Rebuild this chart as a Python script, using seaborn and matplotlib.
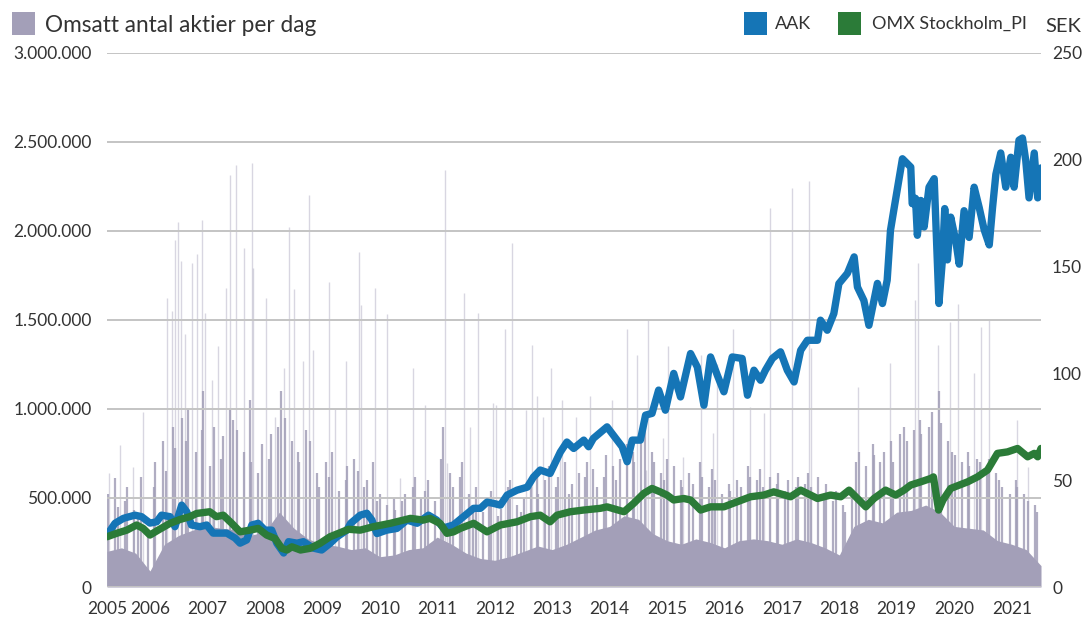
import numpy as np
import pandas as pd
import matplotlib
matplotlib.use("Agg")
import matplotlib.pyplot as plt
import seaborn as sns
from matplotlib.ticker import FuncFormatter
from matplotlib.patches import Rectangle

# ---------------- data ----------------
aak_dates = ["2005-10-01", "2005-11-21", "2006-01-13", "2006-03-27", "2006-05-09", "2006-07-01",
             "2006-08-13", "2006-09-13", "2006-11-06", "2006-12-07", "2007-01-19", "2007-02-20",
             "2007-03-22", "2007-05-15", "2007-06-27", "2007-08-07", "2007-11-01", "2007-12-24",
             "2008-01-25", "2008-03-07", "2008-04-09", "2008-05-19", "2008-07-01", "2008-08-13",
             "2008-09-15", "2008-10-28", "2008-11-28", "2009-01-21", "2009-03-03", "2009-05-04",
             "2009-06-27", "2009-08-19", "2009-10-01", "2009-12-04", "2009-12-28", "2010-02-27",
             "2010-04-10", "2010-05-12", "2010-06-13", "2010-08-15", "2010-10-18", "2010-12-21",
             "2011-02-24", "2011-05-07", "2011-06-28", "2011-08-10", "2011-10-12", "2011-12-16",
             "2012-02-18", "2012-04-01", "2012-05-13", "2012-06-24", "2012-08-06", "2012-09-18",
             "2012-11-20", "2013-01-24", "2013-03-04", "2013-04-16", "2013-06-18", "2013-08-22",
             "2013-10-03", "2013-11-15", "2014-01-18", "2014-02-18", "2014-03-20", "2014-06-15",
             "2014-08-18", "2014-09-19", "2014-10-21", "2014-11-22", "2015-01-13", "2015-02-15",
             "2015-03-28", "2015-05-09", "2015-06-21", "2015-08-13", "2015-09-25", "2015-11-28",
             "2016-01-10", "2016-02-21", "2016-04-03", "2016-05-16", "2016-06-27", "2016-08-19",
             "2016-10-21", "2016-11-24", "2017-01-04", "2017-02-15", "2017-03-18", "2017-05-01",
             "2017-06-22", "2017-08-04", "2017-09-16", "2017-10-28", "2017-12-10", "2018-02-12",
             "2018-03-03", "2018-04-15", "2018-05-27", "2018-06-28", "2018-08-21", "2018-10-03",
             "2018-10-24", "2018-12-04", "2019-01-05", "2019-02-06", "2019-02-28", "2019-04-01",
             "2019-05-01", "2019-05-22", "2019-06-12", "2019-08-06", "2019-09-28", "2019-10-07",
             "2019-10-28", "2019-11-09", "2019-12-01", "2019-12-22", "2020-01-22", "2020-02-24",
             "2020-03-15", "2020-03-25", "2020-04-16", "2020-05-01", "2020-05-18", "2020-06-08",
             "2020-07-10", "2020-08-01", "2020-09-01", "2020-10-03", "2020-11-04", "2020-12-06",
             "2021-01-07", "2021-02-08", "2021-03-01", "2021-03-22", "2021-04-22", "2021-05-24",
             "2021-06-25", "2021-07-16", "2021-08-16", "2021-09-07", "2021-09-28", "2021-10-19",
             "2021-11-21", "2021-12-13", "2022-01-03"]
aak_values = [24.3, 29.8, 32.1, 33.6, 32.9, 29.9,
              30.5, 33.6, 32.9, 28.2, 38.3, 35.2,
              29.0, 28.2, 29.0, 25.2, 25.2, 22.9,
              20.5, 22.0, 29.0, 29.8, 26.6, 26.6,
              20.4, 15.9, 21.2, 20.5, 21.2, 18.2,
              17.3, 20.4, 23.4, 26.6, 29.8, 33.6,
              34.5, 31.3, 25.0, 26.6, 27.4, 31.3,
              29.8, 33.6, 31.3, 27.6, 29.0, 32.9,
              36.8, 36.8, 39.7, 39.1, 38.3, 43.0,
              45.3, 46.7, 51.4, 54.7, 53.1, 63.1,
              67.8, 64.8, 68.7, 65.6, 69.5, 74.9,
              68.7, 65.6, 58.6, 68.7, 68.7, 80.4,
              81.2, 92.1, 82.7, 99.9, 88.9, 109.2,
              102.9, 85.0, 107.6, 99.1, 91.3, 107.6,
              106.9, 89.7, 101.4, 96.7, 101.4, 106.9,
              110.0, 101.4, 95.9, 110.7, 115.4, 115.4,
              124.8, 120.1, 127.9, 141.9, 146.7, 154.4,
              140.3, 134.0, 122.4, 134.0, 142.0, 132.6,
              143.5, 166.8, 176.2, 200.3, 196.4, 179.3,
              181.8, 164.5, 180.8, 168.4, 187.0, 191.0,
              151.3, 132.6, 152.8, 177.0, 153.0, 173.0,
              162.0, 151.0, 176.0, 163.5, 187.0, 177.5,
              167.0, 160.0, 177.5, 193.0, 203.0, 187.0,
              201.0, 187.0, 209.0, 210.0, 199.5, 182.0,
              203.0, 182.0, 196.0]

omx_dates = ["2005-10-01", "2005-12-01", "2006-02-04", "2006-04-07", "2006-05-19", "2006-07-01",
             "2006-08-22", "2006-11-06", "2007-01-09", "2007-03-12", "2007-04-24", "2007-07-16",
             "2007-08-28", "2007-10-10", "2007-12-03", "2008-01-25", "2008-03-28", "2008-05-19",
             "2008-07-12", "2008-09-03", "2008-10-16", "2008-11-18", "2008-12-19", "2009-02-12",
             "2009-04-15", "2009-06-16", "2009-08-19", "2009-10-22", "2009-12-15", "2010-02-27",
             "2010-05-21", "2010-09-07", "2011-01-12", "2011-04-04", "2011-05-16", "2011-07-19",
             "2011-09-01", "2011-10-13", "2011-11-25", "2012-02-18", "2012-05-13", "2012-08-06",
             "2012-11-20", "2013-02-13", "2013-04-16", "2013-06-18", "2013-08-01", "2013-10-25",
             "2014-01-18", "2014-05-04", "2014-06-15", "2014-10-01", "2014-12-01", "2015-02-04",
             "2015-03-28", "2015-05-19", "2015-07-01", "2015-08-13", "2015-10-16", "2015-11-28",
             "2016-01-31", "2016-04-03", "2016-06-27", "2016-09-21", "2016-12-13", "2017-03-07",
             "2017-05-10", "2017-08-25", "2017-10-28", "2018-02-12", "2018-05-06", "2018-07-10",
             "2018-09-01", "2018-12-16", "2019-02-06", "2019-04-21", "2019-06-24", "2019-08-16",
             "2019-09-28", "2019-12-01", "2020-02-03", "2020-02-19", "2020-03-23", "2020-04-20",
             "2020-06-08", "2020-09-24", "2020-11-25", "2021-01-28", "2021-04-01", "2021-06-04",
             "2021-08-07", "2021-10-10", "2021-11-21", "2021-12-13", "2022-01-03"]
omx_values = [23.5, 25.1, 26.6, 29.0, 27.4, 24.3,
              26.6, 29.8, 31.6, 32.9, 34.4, 35.2,
              32.9, 33.6, 29.8, 25.8, 26.6, 27.4,
              24.3, 22.7, 18.1, 17.3, 18.8, 17.3,
              18.1, 20.4, 23.5, 25.4, 27.0, 26.6,
              28.2, 29.8, 32.1, 31.3, 32.1, 29.8,
              25.1, 25.8, 27.4, 29.8, 25.8, 29.0,
              30.5, 32.9, 33.6, 30.5, 33.6, 35.2,
              36.0, 36.8, 37.5, 35.2, 39.1, 43.8,
              46.1, 44.5, 43.0, 40.7, 41.4, 40.7,
              36.0, 37.5, 37.5, 39.9, 42.2, 43.0,
              44.5, 42.2, 45.3, 41.4, 43.0, 42.2,
              45.3, 37.5, 41.4, 45.3, 43.0, 45.3,
              47.7, 49.2, 50.8, 51.5, 36.0, 40.7,
              46.1, 49.2, 51.5, 54.7, 62.5, 63.2,
              64.8, 60.9, 62.5, 60.9, 64.8]

# daily turnover: dense base level (quarterly reading)
vol_dates = ["2005-10-01", "2006-01-01", "2006-04-01", "2006-07-01", "2006-10-01", "2007-01-01",
             "2007-04-01", "2007-07-01", "2007-10-01", "2008-01-01", "2008-04-01", "2008-07-01",
             "2008-10-01", "2009-01-01", "2009-04-01", "2009-07-01", "2009-10-01", "2010-01-01",
             "2010-04-01", "2010-07-01", "2010-10-01", "2011-01-01", "2011-04-01", "2011-07-01",
             "2011-10-01", "2012-01-01", "2012-04-01", "2012-07-01", "2012-10-01", "2013-01-01",
             "2013-04-01", "2013-07-01", "2013-10-01", "2014-01-01", "2014-04-01", "2014-07-01",
             "2014-10-01", "2015-01-01", "2015-04-01", "2015-07-01", "2015-10-01", "2016-01-01",
             "2016-04-01", "2016-07-01", "2016-10-01", "2017-01-01", "2017-04-01", "2017-07-01",
             "2017-10-01", "2018-01-01", "2018-04-01", "2018-07-01", "2018-10-01", "2019-01-01",
             "2019-04-01", "2019-07-01", "2019-10-01", "2020-01-01", "2020-04-01", "2020-07-01",
             "2020-10-01", "2021-01-01", "2021-04-01", "2021-07-01", "2021-10-01", "2022-01-03"]
vol_dense = [200e3, 220e3, 190e3, 90e3, 240e3, 290e3,
             320e3, 340e3, 330e3, 320e3, 290e3, 310e3,
             420e3, 330e3, 270e3, 240e3, 230e3, 210e3,
             220e3, 170e3, 180e3, 210e3, 220e3, 280e3,
             240e3, 190e3, 160e3, 150e3, 170e3, 200e3,
             230e3, 210e3, 240e3, 280e3, 320e3, 340e3,
             400e3, 380e3, 300e3, 260e3, 240e3, 270e3,
             250e3, 220e3, 260e3, 270e3, 260e3, 240e3,
             270e3, 250e3, 220e3, 180e3, 340e3, 380e3,
             360e3, 420e3, 430e3, 460e3, 420e3, 340e3,
             330e3, 320e3, 260e3, 240e3, 210e3, 120e3]

# medium-height days, about one per month (thousands of shares)
mid_start = "2005-10-01"
mid_days = [5, 19, 11, 26, 8, 22, 14, 3, 17, 28]
mid_vals_k = [520, 610, 450,
              480, 560, 430, 390, 620, 300, 560, 700, 820, 650, 900, 780,
              950, 820, 1000, 760, 880, 1100, 680, 900, 720, 850, 1000, 940,
              880, 760, 1050, 700, 640, 800, 720, 860, 900, 1100, 950, 820,
              760, 700, 880, 820, 640, 560, 700, 620, 760, 540, 600, 680,
              720, 650, 560, 600, 700, 480, 520, 460, 500, 430, 480, 520,
              560, 620, 500, 540, 600, 480, 720, 900, 640, 560, 620, 700,
              520, 460, 560, 420, 480, 540, 400, 440, 560, 600, 460, 420,
              500, 560, 620, 520, 600, 680, 560, 620, 700, 520, 580, 640,
              620, 700, 660, 560, 620, 740, 680, 600, 720, 800, 760, 700,
              820, 900, 760, 700, 640, 600, 720, 680, 600, 560, 640, 580,
              700, 620, 560, 660, 600, 520, 580, 540, 600, 560, 680, 620,
              600, 660, 560, 620, 580, 640, 540, 600, 560, 620, 580, 640,
              560, 620, 520, 580, 480, 540, 460, 420, 520, 700, 760, 680,
              800, 740, 700, 760, 820, 700, 860, 900, 820, 880, 940, 860,
              900, 980, 1100, 920, 820, 760, 740, 700, 760, 680, 720, 700,
              680, 720, 640, 600, 560, 520, 600, 560, 520, 480, 460, 420]

# tall single-day spikes
spike_dates = ["2005-10-13", "2005-12-23", "2006-03-14", "2006-05-16", "2006-10-17", "2006-11-18",
               "2006-12-07", "2006-12-26", "2007-01-15", "2007-02-09", "2007-03-24", "2007-04-25",
               "2007-05-27", "2007-06-15", "2007-07-31", "2007-09-07", "2007-10-27", "2007-11-22",
               "2008-01-02", "2008-02-19", "2008-04-09", "2008-04-15", "2008-07-09", "2008-09-04",
               "2008-11-01", "2008-12-03", "2009-01-04", "2009-03-02", "2009-04-10", "2009-05-04",
               "2009-08-13", "2009-09-21", "2009-12-01", "2010-02-21", "2010-03-04", "2010-06-01",
               "2010-08-16", "2010-11-08", "2011-01-31", "2011-04-16", "2011-08-19", "2011-09-03",
               "2011-12-19", "2012-01-28", "2012-03-18", "2012-06-22", "2012-07-10", "2012-09-06",
               "2012-10-21", "2013-01-13", "2013-02-21", "2013-03-28", "2013-05-07", "2013-06-25",
               "2013-08-22", "2013-09-04", "2013-11-27", "2014-03-01", "2014-07-19", "2014-10-22",
               "2014-12-22", "2015-02-15", "2015-02-28", "2015-06-07", "2015-07-10", "2015-10-13",
               "2016-01-31", "2016-04-16", "2016-05-16", "2016-08-22", "2016-12-13", "2017-03-07",
               "2017-04-13", "2017-09-01", "2017-12-18", "2018-01-03", "2018-10-25", "2019-05-22",
               "2019-10-28", "2019-11-12", "2020-03-16", "2020-06-01", "2020-07-22", "2020-11-03",
               "2020-12-16", "2021-02-06", "2021-08-03", "2021-10-13"]
spike_vals = [639e3, 796e3, 673e3, 981e3, 1.62e6, 1.55e6,
              1.95e6, 2.05e6, 1.83e6, 1.42e6, 1.82e6, 1.87e6,
              2.06e6, 1.54e6, 1.16e6, 1.35e6, 1.68e6, 2.31e6,
              2.37e6, 1.90e6, 2.38e6, 1.79e6, 1.62e6, 953e3,
              1.23e6, 2.02e6, 1.67e6, 1.27e6, 2.20e6, 1.33e6,
              1.71e6, 1.00e6, 1.27e6, 1.88e6, 1.58e6, 1.68e6,
              1.53e6, 611e3, 1.23e6, 1.02e6, 2.34e6, 695e3,
              1.65e6, 897e3, 1.54e6, 1.03e6, 1.02e6, 1.45e6,
              1.93e6, 992e3, 1.36e6, 1.07e6, 953e3, 1.23e6,
              729e3, 1.05e6, 953e3, 1.07e6, 1.05e6, 1.45e6,
              1.30e6, 656e3, 1.50e6, 835e3, 1.35e6, 729e3,
              1.30e6, 863e3, 1.25e6, 1.45e6, 1.01e6, 976e3,
              2.13e6, 2.24e6, 2.28e6, 1.34e6, 1.12e6, 1.26e6,
              1.61e6, 1.82e6, 1.36e6, 1.49e6, 1.59e6, 1.20e6,
              1.46e6, 1.50e6, 936e3, 673e3]

year_labels = ["2005", "2006", "2007", "2008", "2009", "2010", "2011", "2012", "2013",
               "2014", "2015", "2016", "2017", "2018", "2019", "2020", "2021"]
left_ticks = [0, 500e3, 1000e3, 1500e3, 2000e3, 2500e3, 3000e3]
right_ticks = [0, 50, 100, 150, 200, 250]

# ---------------- style ----------------
C_VOL = "#a39fb8"
C_AAK = "#1575b6"
C_OMX = "#2b7b38"
C_TXT = "#333333"
C_GRID = "#c4c4c4"

sns.set_theme(style="white")
plt.rcParams["font.family"] = ["Lato", "DejaVu Sans"]

W, H = 1087, 620
fig = plt.figure(figsize=(W / 100, H / 100), dpi=100)
ax = fig.add_axes([107 / W, 1 - 587 / H, (1041 - 107) / W, (587 - 52.5) / H])
ax2 = ax.twinx()

aak = pd.DataFrame({"date": pd.to_datetime(aak_dates), "AAK": aak_values})
omx = pd.DataFrame({"date": pd.to_datetime(omx_dates), "OMX": omx_values})
vol = pd.DataFrame({"date": pd.to_datetime(vol_dates), "vol": vol_dense})
spk = pd.DataFrame({"date": pd.to_datetime(spike_dates), "vol": spike_vals})
months = pd.date_range(mid_start, periods=len(mid_vals_k), freq="MS")
mid = pd.DataFrame({
    "date": [m + pd.Timedelta(days=mid_days[i % len(mid_days)] - 1) for i, m in enumerate(months)],
    "vol": np.array(mid_vals_k) * 1e3,
})

# volume
ax.fill_between(vol["date"], 0, vol["vol"], color=C_VOL, lw=0, zorder=1)
ax.vlines(mid["date"], 0, mid["vol"], color=C_VOL, lw=1.6, alpha=0.85, zorder=1.1)
ax.vlines(spk["date"], 0, spk["vol"], color=C_VOL, lw=1.0, alpha=0.42, zorder=1.2)

# price lines
sns.lineplot(data=aak, x="date", y="AAK", ax=ax2, color=C_AAK, lw=5.3,
             solid_capstyle="round", solid_joinstyle="round")
sns.lineplot(data=omx, x="date", y="OMX", ax=ax2, color=C_OMX, lw=5.3,
             solid_capstyle="round", solid_joinstyle="round")

x0, x1 = aak["date"].iloc[0], aak["date"].iloc[-1]
ax.set_xlim(x0, x1)
ax.set_ylim(0, 3e6)
ax2.set_ylim(0, 250)

ax.set_yticks(left_ticks)
ax.yaxis.set_major_formatter(FuncFormatter(lambda v, p: f"{int(v):,}".replace(",", ".")))
ax2.set_yticks(right_ticks)

xt = [x0] + [pd.Timestamp(f"{y}-07-01") for y in year_labels[1:]]
ax.set_xticks(xt)
ax.set_xticklabels(year_labels)

ax.grid(axis="y", color=C_GRID, lw=1.4)
ax.grid(axis="x", visible=False)
ax2.grid(False)
ax.set_axisbelow(False)

for a in (ax, ax2):
    for s in a.spines.values():
        s.set_visible(False)
    a.set_xlabel("")
    a.set_ylabel("")
    a.tick_params(length=0, colors=C_TXT, labelsize=12.5)
ax.tick_params(axis="y", pad=11)
ax.tick_params(axis="x", pad=10)
ax2.tick_params(axis="y", pad=8)

# legends / header
def swatch(x, color):
    fig.add_artist(Rectangle((x / W, 1 - 35 / H), 23 / W, 23 / H, transform=fig.transFigure,
                             color=color, lw=0))

swatch(12, C_VOL)
fig.text(45 / W, 1 - 25 / H, "Omsatt antal aktier per dag", va="center", ha="left",
         fontsize=16.3, color=C_TXT)
swatch(744, C_AAK)
fig.text(775 / W, 1 - 24 / H, "AAK", va="center", ha="left", fontsize=13, color=C_TXT)
swatch(838, C_OMX)
fig.text(872 / W, 1 - 24 / H, "OMX Stockholm_PI", va="center", ha="left", fontsize=13,
         color=C_TXT)
fig.text(1045 / W, 1 - 26 / H, "SEK", va="center", ha="left", fontsize=14.5, color=C_TXT)

fig.savefig("out.png", dpi=100)
